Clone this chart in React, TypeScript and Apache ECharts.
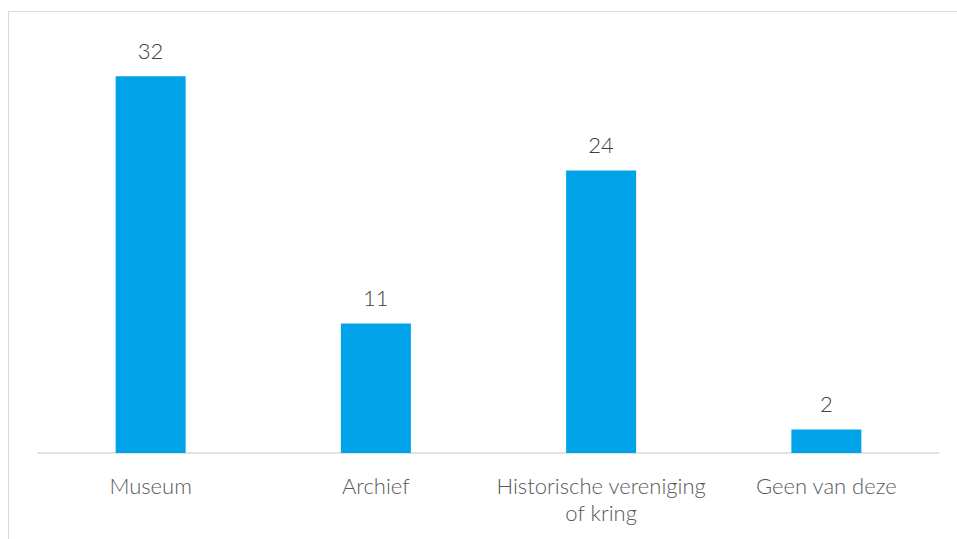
import React, { useEffect, useRef } from "react";
import * as echarts from "echarts";

const categories = ["Museum", "Archief", "Historische vereniging\nof kring", "Geen van deze"];
const values = [32, 11, 24, 2];

export default function App() {
  const ref = useRef<HTMLDivElement>(null);
  useEffect(() => {
    if (!ref.current) return;
    const chart = echarts.init(ref.current, undefined, { renderer: "svg" });
    chart.setOption({
      animation: false,
      grid: { left: 38, right: 18, top: 41, bottom: 86, containLabel: false },
      xAxis: {
        type: "category",
        data: categories,
        axisLine: { lineStyle: { color: "#d9d9d9", width: 1.5 } },
        axisTick: { show: false },
        axisLabel: {
          color: "#595959",
          fontFamily: "Lato",
          fontWeight: 300,
          fontSize: 22,
          lineHeight: 27,
          margin: 19,
          interval: 0,
        },
      },
      yAxis: { type: "value", min: 0, max: 35, show: false, splitLine: { show: false } },
      series: [
        {
          type: "bar",
          data: values,
          barWidth: 70,
          itemStyle: { color: "#00a2e8" },
          label: {
            show: true,
            position: "top",
            distance: 15,
            color: "#404040",
            fontFamily: "Lato",
            fontWeight: 300,
            fontSize: 22,
          },
        },
      ],
    });
    return () => chart.dispose();
  }, []);
  return (
    <div style={{ position: "fixed", left: 0, top: 0, width: 957, height: 539, overflow: "hidden", background: "#fff" }}>
      <div
        style={{
          position: "absolute",
          left: 8,
          top: 11,
          width: 1200,
          height: 1000,
          border: "1.5px solid #d9d9d9",
          boxSizing: "border-box",
        }}
      />
      <div ref={ref} style={{ position: "absolute", left: 0, top: 0, width: 957, height: 539 }} />
    </div>
  );
}
